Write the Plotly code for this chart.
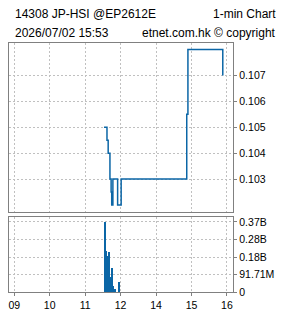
import plotly.graph_objects as go

# ---- data ----
price_times = ["11:32", "11:37", "11:39", "11:42", "11:44", "11:45", "11:47", "11:55",
               "13:01", "14:52", "14:54", "15:53"]
price_values = [0.105, 0.1045, 0.104, 0.103, 0.1025, 0.102, 0.103, 0.102,
                0.103, 0.1055, 0.108, 0.107]

vol_times = ["11:33", "11:34", "11:35", "11:36", "11:37", "11:38", "11:39", "11:40",
             "11:41", "11:42", "11:43", "11:44", "11:45", "11:46", "11:47", "11:50", "11:57"]
vol_values = [366.8e6, 366.8e6, 140e6, 215e6, 190e6, 160e6, 120e6, 207e6,
              100e6, 76e6, 60e6, 55e6, 123e6, 40e6, 34e6, 14e6, 50e6]

x_tick_labels = ["09", "10", "11", "12", "14", "15", "16"]
x_tick_hours = ["09:00", "10:00", "11:00", "12:00", "14:00", "15:00", "16:00"]
price_ticks = [0.103, 0.104, 0.105, 0.106, 0.107]
price_tick_labels = ["0.103", "0.104", "0.105", "0.106", "0.107"]
vol_ticks = [0, 91.71e6, 183.42e6, 275.13e6, 366.84e6]
vol_tick_labels = ["0", "91.71M", "0.18B", "0.28B", "0.37B"]

title_left_1 = "14308 JP-HSI @EP2612E"
title_right_1 = "1-min Chart"
title_left_2 = "2026/07/02 15:53"
title_right_2 = "etnet.com.hk © copyright"


def trade_min(t):
    """minutes of trading time since 09:00 (lunch 12:00-13:00 removed)"""
    h, m = map(int, t.split(":"))
    v = (h - 9) * 60 + m
    if h >= 13:
        v -= 60
    return v


px = [trade_min(t) for t in price_times]
vx = [trade_min(t) for t in vol_times]
tx = [trade_min(t) for t in x_tick_hours]

W, H = 285, 318
BLUE = "#0b66a6"
FRAME = "#808080"
GRID = "#c0c0c0"
FONT = "Liberation Sans"

fig = go.Figure()
fig.add_trace(go.Scatter(x=px, y=price_values, mode="lines", line_shape="hv",
                         line=dict(color=BLUE, width=1.5), xaxis="x", yaxis="y",
                         showlegend=False, hoverinfo="skip"))
fig.add_trace(go.Bar(x=vx, y=vol_values, width=1.7, marker=dict(color=BLUE, line_width=0),
                     xaxis="x2", yaxis="y2", showlegend=False, hoverinfo="skip"))

xdom = [8 / W, 233 / W]
xrange_ = [-8.9, 370.6]
common_x = dict(range=xrange_, domain=xdom, tickvals=tx, ticktext=x_tick_labels,
                showgrid=True, gridcolor=GRID, griddash="2px,2px", gridwidth=1,
                showline=True, linecolor=FRAME, linewidth=1, mirror=True,
                zeroline=False, fixedrange=True)

fig.update_layout(
    width=W, height=H,
    margin=dict(l=0, r=0, t=0, b=0),
    paper_bgcolor="white", plot_bgcolor="white",
    font=dict(family=FONT, size=10.5, color="black"),
    bargap=0,
    xaxis=dict(anchor="y", showticklabels=False, ticks="", **common_x),
    xaxis2=dict(anchor="y2", showticklabels=True, ticks="outside", ticklen=3,
                tickcolor=FRAME, tickfont=dict(size=10.5), **common_x),
    yaxis=dict(domain=[1 - 216 / H, 1 - 42.7 / H], range=[0.10172, 0.10826],
               side="right", anchor="x", tickvals=price_ticks, ticktext=price_tick_labels,
               ticks="outside", ticklen=3, tickcolor=FRAME,
               showgrid=True, gridcolor=GRID, griddash="2px,2px", gridwidth=1,
               showline=True, linecolor=FRAME, linewidth=1, mirror=True,
               zeroline=False, fixedrange=True),
    yaxis2=dict(domain=[1 - 297.7 / H, 1 - 221 / H], range=[0, 392e6],
                side="right", anchor="x2", tickvals=vol_ticks, ticktext=vol_tick_labels,
                ticks="outside", ticklen=3, tickcolor=FRAME,
                showgrid=True, gridcolor=GRID, griddash="2px,2px", gridwidth=1,
                showline=True, linecolor=FRAME, linewidth=1, mirror=True,
                zeroline=False, fixedrange=True),
)

ann_font = dict(family=FONT, size=12, color="black")
fig.add_annotation(text=title_left_1, xref="paper", yref="paper", x=12 / W, y=1 - 13.5 / H,
                   xanchor="left", yanchor="middle", showarrow=False, font=ann_font)
fig.add_annotation(text=title_right_1, xref="paper", yref="paper", x=278 / W, y=1 - 13.5 / H,
                   xanchor="right", yanchor="middle", showarrow=False, font=ann_font)
fig.add_annotation(text=title_left_2, xref="paper", yref="paper", x=12 / W, y=1 - 33 / H,
                   xanchor="left", yanchor="middle", showarrow=False, font=ann_font)
fig.add_annotation(text=title_right_2, xref="paper", yref="paper", x=278 / W, y=1 - 33 / H,
                   xanchor="right", yanchor="middle", showarrow=False, font=ann_font)

fig.write_html("out.html", config={"displayModeBar": False})
